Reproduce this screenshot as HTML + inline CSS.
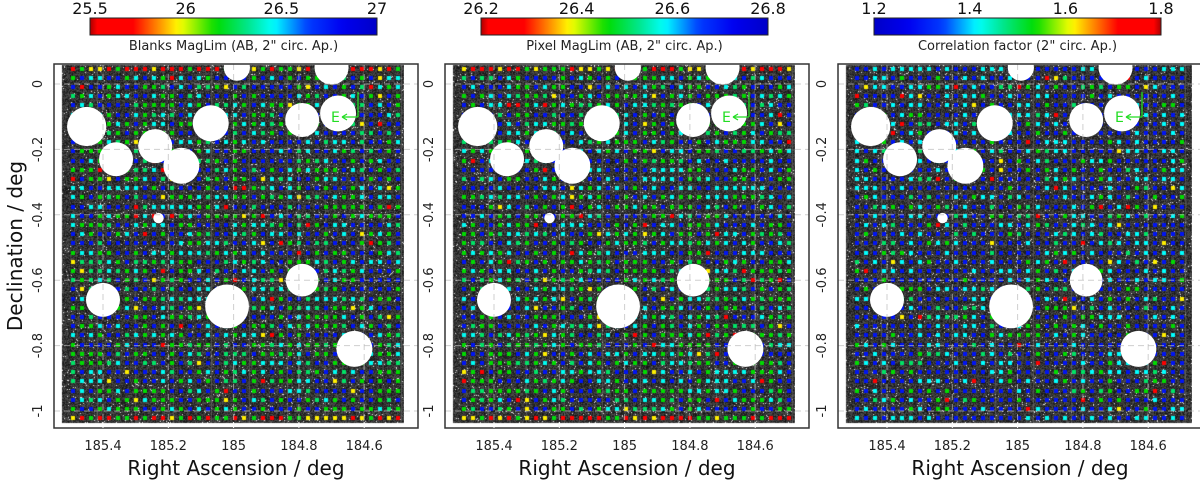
<!DOCTYPE html>
<html><head><meta charset="utf-8">
<style>
html,body{margin:0;padding:0;background:#fff;width:1200px;height:482px;overflow:hidden}
#wrap{position:relative;width:1200px;height:482px}
canvas,svg{position:absolute;left:0;top:0}
text{font-family:"DejaVu Sans","Liberation Sans",sans-serif}
</style></head>
<body>
<div id="wrap">
<canvas id="cv" width="1200" height="482"></canvas>
<svg id="sv" width="1200" height="482" xmlns="http://www.w3.org/2000/svg"></svg>
</div>
<script>
// ---- data ----
const raTicks = [185.4, 185.2, 185.0, 184.8, 184.6];
const raTickLabels = ["185.4", "185.2", "185", "184.8", "184.6"];
const decTicks = [0, -0.2, -0.4, -0.6, -0.8, -1.0];
const decTickLabels = ["0", "-0.2", "-0.4", "-0.6", "-0.8", "-1"];
const cbTicks1 = [25.5, 26, 26.5, 27];
const cbTickLabels1 = ["25.5", "26", "26.5", "27"];
const cbTicks2 = [26.2, 26.4, 26.6, 26.8];
const cbTickLabels2 = ["26.2", "26.4", "26.6", "26.8"];
const cbTicks3 = [1.2, 1.4, 1.6, 1.8];
const cbTickLabels3 = ["1.2", "1.4", "1.6", "1.8"];
const cbTitles = ["Blanks MagLim (AB, 2\" circ. Ap.)", "Pixel MagLim (AB, 2\" circ. Ap.)", "Correlation factor (2\" circ. Ap.)"];
// masked bright stars: [RA, Dec, radius deg]
const maskRA  = [185.45, 185.36, 185.24, 185.16, 185.07, 184.79, 184.68, 184.70, 184.99, 185.40, 184.79, 184.63, 185.23, 185.02];
const maskDec = [-0.13, -0.23, -0.19, -0.25, -0.12, -0.11, -0.09, 0.05, 0.05, -0.66, -0.60, -0.81, -0.41, -0.68];
const maskR   = [0.060, 0.052, 0.052, 0.055, 0.055, 0.052, 0.055, 0.052, 0.04, 0.052, 0.05, 0.055, 0.016, 0.067];

// ---- layout ----
const offsets = [0, 391, 784];
const X0 = 54, X1 = 418, Y0 = 64, Y1 = 428;
function xs(ra, o){ return o + 103 + (185.4 - ra) / 0.2 * 65.3; }
function ys(dec){ return 84 + (0 - dec) / 1.0 * 327; }
const NS = "http://www.w3.org/2000/svg";
const sv = document.getElementById('sv');
function el(tag, attrs, parent){
  const e = document.createElementNS(NS, tag);
  for (const k in attrs) e.setAttribute(k, attrs[k]);
  (parent || sv).appendChild(e);
  return e;
}
const jetStops = [[0,[170,0,0]],[0.02,[255,0,0]],[0.15,[255,0,0]],[0.31,[255,255,0]],[0.44,[0,220,0]],[0.55,[0,230,140]],[0.64,[0,255,255]],[0.76,[0,60,255]],[0.88,[0,0,240]],[1,[0,0,200]]];
function jet(t){
  for (let i=1;i<jetStops.length;i++){
    if (t<=jetStops[i][0]){
      const a=jetStops[i-1], b=jetStops[i]; const f=(t-a[0])/(b[0]-a[0]);
      return 'rgb('+a[1].map((v,j)=>Math.round(v+(b[1][j]-v)*f)).join(',')+')';
    }
  }
  return 'rgb(0,0,200)';
}
// deterministic sequential generator for the background image texture (not chart data)
function gen(seed){
  let s = seed >>> 0;
  return function(){
    s = (s + 0x6D2B79F5) >>> 0;
    let t = s;
    t = Math.imul(t ^ (t >>> 15), t | 1);
    t ^= t + Math.imul(t ^ (t >>> 7), t | 61);
    return ((t ^ (t >>> 14)) >>> 0) / 4294967296;
  };
}

const cv = document.getElementById('cv'); const ctx = cv.getContext('2d');
for (let p=0;p<3;p++){
  const o = offsets[p];
  const fx0 = o+62, fx1 = o + (p==2?408:404), fy0 = Y0+1, fy1 = 423;
  const rn = gen(1234 + p);
  const img = ctx.createImageData(fx1-fx0, fy1-fy0);
  for (let i=0;i<img.data.length;i+=4){
    const v = rn();
    const g = v<0.025?235:Math.round(15+v*70);
    img.data[i]=g; img.data[i+1]=g; img.data[i+2]=g; img.data[i+3]=255;
  }
  ctx.putImageData(img, fx0, fy0);
  ctx.strokeStyle='rgba(120,120,120,0.5)'; ctx.lineWidth=1;
  for (let x=fx0+35;x<fx1;x+=38){ctx.beginPath();ctx.moveTo(x+0.5,fy0);ctx.lineTo(x+0.5,fy1);ctx.stroke();}
  const rc = gen(p==1 ? 777 : 99 + p*31);
  for (let r=0;r<39;r++) for (let c=0;c<37;c++){
    const x = o+72+c*9.05, y = 68+r*9.2;
    const v = rc();
    const edge = (r==0||r==38);
    let t;
    if (p<2){
      if (edge) t = v<0.5?0.08:(v<0.7?0.3:0.45);
      else t = v<0.025?0.08:v<0.05?0.3:v<0.33?0.44:v<0.45?0.52:v<0.65?0.63:0.84;
    } else {
      if (edge) t = v<0.6?0.84:0.63;
      else t = v<0.02?0.08:v<0.035?0.3:v<0.15?0.44:v<0.22?0.52:v<0.45?0.64:0.84;
    }
    ctx.fillStyle = jet(t);
    ctx.fillRect(Math.round(x-1.5),Math.round(y-1.5),4,4);
  }
}

for (let p=0;p<3;p++){
  const o = offsets[p];
  const g = el('g', { });
  const fr = p==2 ? X1+o+6 : X1+o;
  for (let i=0;i<maskRA.length;i++){
    const c = el('circle', {cx:xs(maskRA[i],o), cy:ys(maskDec[i]), r:maskR[i]*327, fill:'#fff'}, g);
    
    
  }
  el('rect',{x:o+(p==2?408:404),y:Y0,width:fr-(o+(p==2?408:404)),height:Y1-Y0,fill:'#fff'},g);
  for (let i=0;i<raTicks.length;i++){
    el('line',{x1:xs(raTicks[i],o),x2:xs(raTicks[i],o),y1:Y0,y2:Y1,stroke:'#bbb','stroke-dasharray':'6,4','stroke-width':1,opacity:0.7},g);
  }
  for (let i=0;i<decTicks.length;i++){
    el('line',{x1:X0+o,x2:fr,y1:ys(decTicks[i]),y2:ys(decTicks[i]),stroke:'#bbb','stroke-dasharray':'6,4','stroke-width':1,opacity:0.7},g);
  }
  const ax = o+358, ay = 117;
  el('path',{d:`M${ax} ${ay} L${ax} ${ay-25} M${ax} ${ay} L${ax-16} ${ay} M${ax-16} ${ay} l5 -3 M${ax-16} ${ay} l5 3`,stroke:'#22dd22','stroke-width':1.3,fill:'none'},g);
  const et = el('text',{x:ax-27,y:ay+5,fill:'#22dd22','font-size':14},g); et.textContent='E';
   
  const frm = el('rect',{x:X0+o,y:Y0,width:fr-X0-o,height:Y1-Y0,fill:'none',stroke:'#333','stroke-width':1.5},g);
   
  for (let i=0;i<raTicks.length;i++){
    const x=xs(raTicks[i],o);
    el('line',{x1:x,x2:x,y1:Y1,y2:Y1-6,stroke:'#fff','stroke-width':1},g);
    const t = el('text',{x:x,y:450,'text-anchor':'middle','font-size':13,fill:'#222'},g);
    t.textContent = raTickLabels[i];
     
  }
  const xt = el('text',{x:o+236,y:475,'text-anchor':'middle','font-size':20,fill:'#111'},g);
  xt.textContent='Right Ascension / deg';
   
  for (let i=0;i<decTicks.length;i++){
    const y=ys(decTicks[i]);
    const t = el('text',{x:0,y:0,transform:`translate(${o+42},${y}) rotate(-90)`,'text-anchor':'middle','font-size':13,fill:'#222'},g);
    t.textContent = decTickLabels[i];
     
  }
  const cx0=o+90, cx1=o+377, cy0=18, cy1=35;
  const gid='grad'+p;
  const defs = el('defs',{},g);
  const lg = el('linearGradient',{id:gid,x1:0,x2:1,y1:0,y2:0},defs);
  for (let s=0;s<=40;s++){
    const t=s/40; el('stop',{offset:t,'stop-color':jet(p==2?1-t:t)},lg);
  }
  const cb = el('rect',{x:cx0,y:cy0,width:cx1-cx0,height:cy1-cy0,fill:`url(#${gid})`,stroke:'#222','stroke-width':1},g);
   
  const ticks=[cbTicks1,cbTicks2,cbTicks3][p], labs=[cbTickLabels1,cbTickLabels2,cbTickLabels3][p];
  for (let i=0;i<ticks.length;i++){
    const f=(ticks[i]-ticks[0])/(ticks[ticks.length-1]-ticks[0]);
    const t=el('text',{x:cx0+f*(cx1-cx0),y:14,'text-anchor':'middle','font-size':16,fill:'#111'},g);
    t.textContent=labs[i];
     
  }
  const ct=el('text',{x:(cx0+cx1)/2,y:50,'text-anchor':'middle','font-size':13,fill:'#222'},g);
  ct.textContent=cbTitles[p];
   
}
const yt = el('text',{x:0,y:0,transform:'translate(22,246) rotate(-90)','text-anchor':'middle','font-size':20,fill:'#111'});
yt.textContent='Declination / deg';


</script>
</body></html>
